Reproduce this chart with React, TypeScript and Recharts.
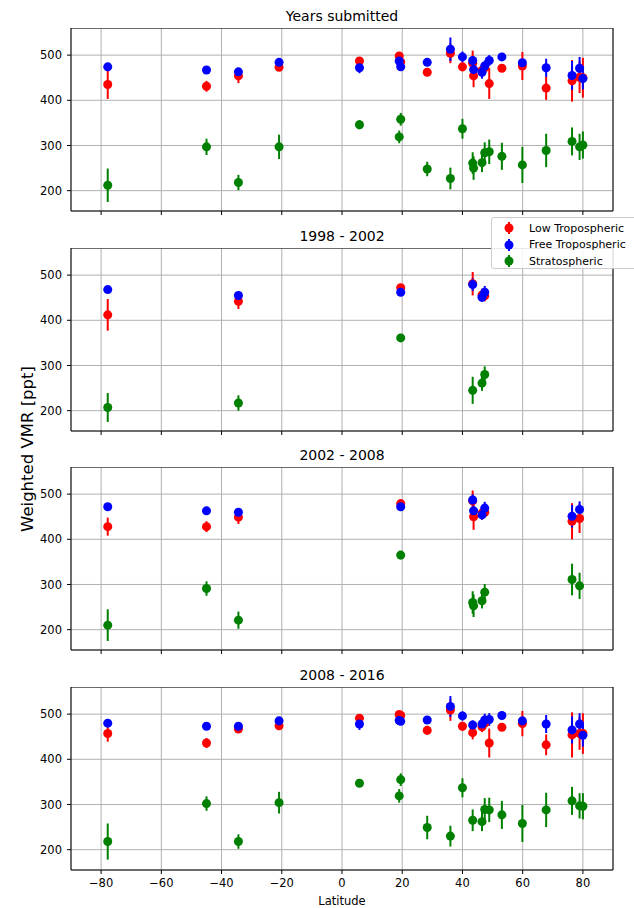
import React from "react";
import {
  ScatterChart,
  Scatter,
  XAxis,
  YAxis,
  CartesianGrid,
  ErrorBar,
  ReferenceArea,
} from "recharts";

const latTicks = [-80, -60, -40, -20, 0, 20, 40, 60, 80];
const vmrTicks = [200, 300, 400, 500];

// Years submitted
const latAll = [-77.8, -45.0, -34.4, -20.9, 5.8, 19.0, 19.5, 28.3, 36.0, 40.0, 43.4, 43.7, 46.5, 47.4, 48.9, 53.1, 59.9, 67.8, 76.4, 78.9, 80.0];
const lowAll = [435, 431, 454, 473, 487, 498, 485, 462, 504, 474, 482, 454, 466, 472, 437, 471, 476, 427, 443, 451, 450];
const lowAllErr = [32, 12, 16, 7, 6, 7, 7, 8, 22, 10, 28, 25, 14, 10, 34, 6, 31, 26, 46, 35, 44];
const freeAll = [474, 467, 463, 484, 472, 487, 474, 484, 513, 496, 488, 468, 462, 476, 488, 496, 483, 472, 455, 471, 448];
const freeAllErr = [4, 4, 7, 5, 12, 6, 6, 5, 26, 12, 10, 10, 14, 12, 12, 5, 8, 20, 32, 25, 24];
const stratAll = [212, 297, 218, 297, 346, 319, 358, 248, 227, 337, 261, 250, 262, 284, 286, 276, 257, 289, 309, 297, 301];
const stratAllErr = [37, 18, 17, 27, 10, 14, 14, 16, 24, 22, 24, 26, 21, 23, 27, 30, 40, 37, 31, 29, 30];

// 1998 - 2002
const lat98 = [-77.8, -34.4, 19.5, 43.4, 46.5, 47.4];
const low98 = [412, 442, 472, 481, 456, 454];
const low98Err = [35, 17, 6, 26, 14, 12];
const free98 = [468, 455, 462, 479, 451, 462];
const free98Err = [4, 5, 5, 14, 10, 14];
const strat98 = [207, 217, 361, 245, 261, 280];
const strat98Err = [32, 17, 9, 30, 17, 18];

// 2002 - 2008
const lat02 = [-77.8, -45.0, -34.4, 19.5, 43.4, 43.7, 46.5, 47.4, 76.4, 78.9];
const low02 = [428, 428, 449, 479, 485, 450, 458, 460, 440, 446];
const low02Err = [20, 12, 15, 6, 23, 29, 15, 12, 40, 32];
const free02 = [472, 463, 460, 472, 487, 463, 454, 469, 451, 466];
const free02Err = [4, 4, 5, 5, 12, 10, 10, 14, 25, 18];
const strat02 = [210, 291, 221, 365, 260, 253, 264, 283, 311, 297];
const strat02Err = [35, 16, 19, 7, 25, 25, 17, 18, 35, 29];

// 2008 - 2016
const lat08 = [-77.8, -45.0, -34.4, -20.9, 5.8, 19.0, 19.5, 28.3, 36.0, 40.0, 43.4, 46.5, 47.4, 48.9, 53.1, 59.9, 67.8, 76.4, 78.9, 80.0];
const low08 = [457, 436, 467, 474, 491, 499, 497, 464, 509, 473, 459, 472, 480, 436, 471, 479, 432, 454, 457, 457];
const low08Err = [18, 11, 6, 7, 6, 6, 6, 8, 24, 10, 15, 12, 12, 32, 6, 28, 23, 50, 36, 45];
const free08 = [480, 473, 473, 485, 478, 486, 484, 487, 517, 496, 476, 478, 487, 488, 497, 485, 478, 465, 478, 453];
const free08Err = [4, 4, 5, 5, 13, 6, 6, 6, 23, 10, 10, 12, 14, 14, 5, 8, 20, 30, 24, 25];
const strat08 = [218, 302, 218, 304, 347, 319, 355, 249, 230, 337, 265, 262, 289, 288, 277, 258, 288, 308, 297, 296];
const strat08Err = [40, 16, 16, 24, 6, 15, 14, 26, 23, 21, 24, 21, 25, 27, 31, 41, 38, 31, 28, 29];

const RED = "#ff0000";
const BLUE = "#0000ff";
const GREEN = "#008000";

type Row = { lat: number; v: number; e: number };
const rows = (lat: number[], v: number[], e: number[]): Row[] =>
  lat.map((x, i) => ({ lat: x, v: v[i], e: e[i] }));

const panels = [
  { title: "Years submitted", top: 28, lat: latAll, low: lowAll, lowErr: lowAllErr, free: freeAll, freeErr: freeAllErr, strat: stratAll, stratErr: stratAllErr },
  { title: "1998 - 2002", top: 248, lat: lat98, low: low98, lowErr: low98Err, free: free98, freeErr: free98Err, strat: strat98, stratErr: strat98Err },
  { title: "2002 - 2008", top: 467, lat: lat02, low: low02, lowErr: low02Err, free: free02, freeErr: free02Err, strat: strat02, stratErr: strat02Err },
  { title: "2008 - 2016", top: 687, lat: lat08, low: low08, lowErr: low08Err, free: free08, freeErr: free08Err, strat: strat08, stratErr: strat08Err },
];

const PLOT_H = 183;
const tickStyle = { fontSize: 11.5, fill: "#000" };
const minus = (v: number) => String(v).replace("-", "\u2212");

function Panel({ p, last }: { p: (typeof panels)[number]; last: boolean }) {
  const series = [
    { data: rows(p.lat, p.low, p.lowErr), color: RED },
    { data: rows(p.lat, p.free, p.freeErr), color: BLUE },
    { data: rows(p.lat, p.strat, p.stratErr), color: GREEN },
  ];
  return (
    <div style={{ position: "absolute", left: 0, top: p.top }}>
      <ScatterChart width={634} height={PLOT_H + 30} margin={{ top: 0, right: 21, bottom: 0, left: 11 }}>
        <CartesianGrid stroke="#b0b0b0" strokeWidth={1} />
        <XAxis
          type="number"
          dataKey="lat"
          domain={[-90, 90]}
          ticks={latTicks}
          interval={0}
          allowDataOverflow
          height={30}
          tickSize={4}
          tickMargin={5}
          axisLine={false}
          tickLine={{ stroke: "#000" }}
          tick={tickStyle}
          tickFormatter={last ? minus : () => ""}
        />
        <YAxis
          type="number"
          dataKey="v"
          domain={[155, 560]}
          ticks={vmrTicks}
          interval={0}
          allowDataOverflow
          width={60}
          tickSize={4}
          tickMargin={5}
          axisLine={false}
          tickLine={{ stroke: "#000" }}
          tick={tickStyle}
        />
        <ReferenceArea x1={-90} x2={90} y1={155} y2={560} fill="none" stroke="#000" strokeWidth={1} />
        {series.map((s, i) => (
          <Scatter key={i} data={s.data} fill={s.color} isAnimationActive={false}>
            <ErrorBar dataKey="e" direction="y" width={0} stroke={s.color} strokeWidth={2} />
          </Scatter>
        ))}
      </ScatterChart>
    </div>
  );
}

const legendItems = [
  { label: "Low Tropospheric", color: RED },
  { label: "Free Tropospheric", color: BLUE },
  { label: "Stratospheric", color: GREEN },
];

export default function App() {
  return (
    <div
      style={{
        position: "absolute",
        left: 0,
        top: 0,
        width: 634,
        height: 908,
        overflow: "hidden",
        background: "#fff",
        fontFamily: "'DejaVu Sans', sans-serif",
        fontWeight: 400,
        color: "#000",
      }}
    >
      {panels.map((p, i) => (
        <React.Fragment key={p.title}>
          <div
            style={{
              position: "absolute",
              left: 71,
              width: 542,
              top: p.top - 19.5,
              textAlign: "center",
              fontSize: 14,
              fontWeight: 400,
              lineHeight: "14px",
            }}
          >
            {p.title}
          </div>
          <Panel p={p} last={i === panels.length - 1} />
        </React.Fragment>
      ))}
      <div
        style={{
          position: "absolute",
          left: 71,
          width: 542,
          top: 896,
          textAlign: "center",
          fontSize: 11.5,
          lineHeight: "11.5px",
        }}
      >
        Latitude
      </div>
      <div
        style={{
          position: "absolute",
          left: 27,
          top: 449,
          transform: "translate(-50%, -50%) rotate(-90deg)",
          whiteSpace: "nowrap",
          fontSize: 16.5,
          lineHeight: "17px",
        }}
      >
        Weighted VMR [ppt]
      </div>
      <div
        style={{
          position: "absolute",
          left: 491,
          top: 217,
          width: 150,
          height: 50,
          border: "1px solid #cccccc",
          borderRadius: 3,
          background: "rgba(255,255,255,0.85)",
          fontSize: 11,
        }}
      >
        {legendItems.map((it, i) => (
          <div
            key={it.label}
            style={{ position: "absolute", left: 0, top: 2 + i * 16.5, height: 16, display: "flex", alignItems: "center" }}
          >
            <svg width={34} height={16} style={{ display: "block" }}>
              <line x1={17} x2={17} y1={2} y2={14} stroke={it.color} strokeWidth={2} />
              <circle cx={17} cy={8} r={4.5} fill={it.color} />
            </svg>
            <span style={{ marginLeft: 3 }}>{it.label}</span>
          </div>
        ))}
      </div>
    </div>
  );
}
